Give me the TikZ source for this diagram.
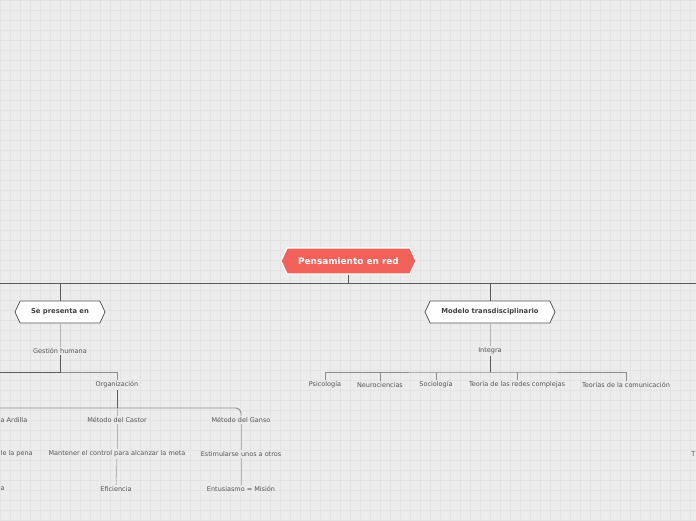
\documentclass[tikz,border=0pt]{standalone}
\usepackage{fontspec}
\setmainfont{DejaVu Sans}
\usetikzlibrary{shapes.symbols}

\definecolor{bgcol}{HTML}{ECECEC}
\definecolor{gridcol}{HTML}{E3E3E3}
\definecolor{topicred}{HTML}{F2625A}
\definecolor{darkline}{HTML}{5A5A5A}
\definecolor{midline}{HTML}{8C8C8C}
\definecolor{lightline}{HTML}{B4B4B4}
\definecolor{txtgray}{HTML}{555555}

\tikzset{
  maintopic/.style={signal, signal to=west and east, signal pointer angle=130,
    fill=topicred, draw=white, line width=1.2pt, text=white,
    font=\fontsize{8.9}{10}\selectfont\bfseries, minimum width=135pt, minimum height=26pt, inner sep=0pt},
  subtopic/.style={signal, signal to=west and east, signal pointer angle=130,
    fill=white, draw=darkline, line width=0.8pt, text=black!75,
    font=\fontsize{6.8}{8}\selectfont\bfseries, minimum height=22pt, inner sep=0pt},
  leaf/.style={text=txtgray, font=\fontsize{6.5}{8}\selectfont, inner sep=1.5pt},
  mainline/.style={draw=darkline, line width=1pt},
  midbus/.style={draw=midline, line width=0.9pt},
  thinline/.style={draw=lightline, line width=0.8pt},
}

\begin{document}
\begin{tikzpicture}[x=1pt, y=-1pt]
      \useasboundingbox (0,0) rectangle (696,520);
      \clip (0,0) rectangle (696,520);
      \fill[bgcol] (0,0) rectangle (696,520);
      \draw[gridcol, line width=0.5pt, step=10pt] (0pt,-520pt) grid (696pt,0pt);

      % topics
      \node[maintopic] (pensamiento) at (348.5,261) {Pensamiento en red};
      \node[subtopic, minimum width=90pt] (presenta) at (60,312) {Se presenta en};
      \node[subtopic, minimum width=130pt] (modelo) at (490,312) {Modelo transdisciplinario};

      % left branch
      \node[leaf] (gestion) at (60,351) {Gestión humana};
      \node[leaf] (organizacion) at (117,385) {Organización};
      \node[leaf, anchor=west, inner sep=0.5pt] (ardilla) at (0,420) {a Ardilla};
      \node[leaf] (castor) at (117,420) {Método del Castor};
      \node[leaf] (ganso) at (241,420) {Método del Ganso};
      \node[leaf, anchor=west, inner sep=0.5pt] (pena) at (0,454) {le la pena};
      \node[leaf] (mantener) at (117,454) {Mantener el control para alcanzar la meta};
      \node[leaf] (estimular) at (241,454) {Estimularse unos a otros};
      \node[leaf, anchor=west, inner sep=0.5pt] (ultima) at (0,489) {a};
      \node[leaf] (eficiencia) at (116,489) {Eficiencia};
      \node[leaf] (entusiasmo) at (241,489) {Entusiasmo = Misión};

      % right branch
      \node[leaf] (integra) at (490,351) {Integra};
      \node[leaf] (psicologia) at (325,385) {Psicología};
      \node[leaf] (neuro) at (380,385) {Neurociencias};
      \node[leaf] (sociologia) at (436,385) {Sociología};
      \node[leaf] (redes) at (517,385) {Teoría de las redes complejas};
      \node[leaf] (comunicacion) at (626,385) {Teorías de la comunicación};
      \node[leaf, anchor=east, inner sep=0.5pt] (derecha) at (696,454) {T};

      % buses
      \coordinate (busL) at (0,283);
      \coordinate (busR) at (696,283);
      \coordinate (gbusL) at (0,372);
      \coordinate (obusL) at (0,408);
      \coordinate (ibus) at (490,372);

      % connectors
      \draw[mainline] (pensamiento.south) -- (pensamiento.south |- busL);
      \draw[mainline] (busL) -- (busR);
      \draw[mainline] (presenta.north |- busL) -- (presenta.north);
      \draw[mainline] (modelo.north |- busL) -- (modelo.north);

      \draw[thinline] (presenta.south) -- (gestion.north);
      \draw[midbus] (gestion.south |- gbusL) -| (organizacion.north);
      \draw[mainline] (gestion.south) -- (gestion.south |- gbusL) -- (gbusL);
      \draw[midbus, rounded corners=5pt] (obusL) -| (ganso.north);
      \draw[mainline] (organizacion.south) -- (organizacion.south |- obusL);
      \draw[thinline] (castor.north |- obusL) -- (castor.north);
      \draw[thinline] (castor) -- (mantener);
      \draw[thinline] (mantener) -- (eficiencia);
      \draw[thinline] (ganso) -- (estimular);
      \draw[thinline] (estimular) -- (entusiasmo);

      \draw[thinline] (modelo.south) -- (integra.north);
      \draw[midbus] (psicologia.north) |- (ibus) -| (comunicacion.north);
      \foreach \n in {neuro,sociologia,redes}
        \draw[midbus] (\n.north) -- (\n.north |- ibus);
      \draw[mainline] (integra.south) -- (ibus);
    \end{tikzpicture}
\end{document}
